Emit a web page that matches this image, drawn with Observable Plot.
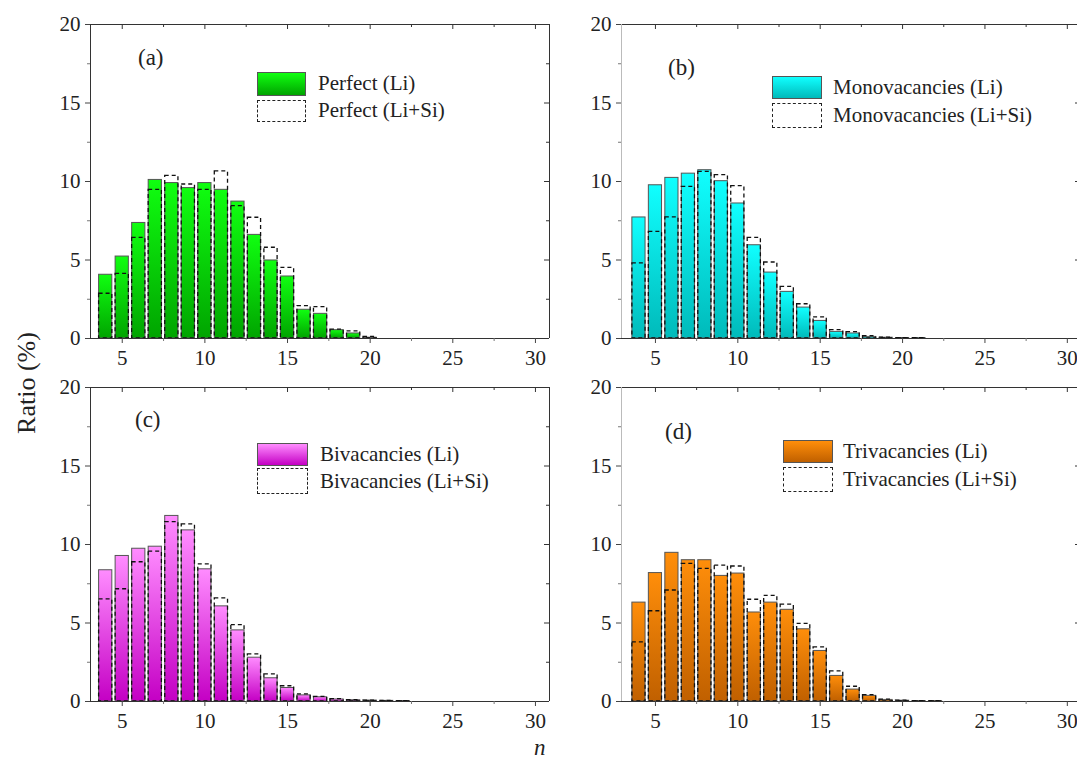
<!DOCTYPE html>
<html><head><meta charset="utf-8">
<script src="https://cdn.jsdelivr.net/npm/d3@7"></script>
<script src="https://cdn.jsdelivr.net/npm/@observablehq/plot@0.6"></script>
<style>
body{margin:0;background:#fff;}
#chart{position:relative;width:1077px;height:760px;overflow:hidden;background:#fff;font-family:"Liberation Serif","Times New Roman",serif;color:#222;}
.panel{position:absolute;}
.lab{position:absolute;white-space:nowrap;line-height:1;}
.sw{position:absolute;box-sizing:border-box;}
</style></head><body><div id="chart"></div>
<script>
// ---- data ----
const nValues = [4,5,6,7,8,9,10,11,12,13,14,15,16,17,18,19,20,21,22];
const perfectLi   = [4.06,5.22,7.36,10.1,9.9,9.58,9.9,9.47,8.72,6.6,4.97,3.95,1.83,1.57,0.53,0.32,0.05,0,0];
const perfectLiSi = [2.85,4.12,6.41,9.47,10.36,9.81,9.47,10.64,8.43,7.69,5.78,4.5,2.06,2.0,0.57,0.46,0.1,0,0];
const monoLi      = [7.71,9.76,10.23,10.5,10.72,10.02,8.6,5.94,4.2,2.97,1.97,1.12,0.42,0.32,0.1,0.05,0.03,0.02,0];
const monoLiSi    = [4.78,6.79,7.71,9.66,10.61,10.4,9.7,6.41,4.84,3.29,2.18,1.34,0.53,0.4,0.15,0.05,0.03,0.02,0];
const biLi        = [8.36,9.27,9.73,9.86,11.82,10.9,8.42,6.06,4.53,2.79,1.48,0.86,0.39,0.27,0.13,0.08,0.06,0.04,0.03];
const biLiSi      = [6.5,7.15,8.87,9.54,11.43,11.28,8.74,6.57,4.87,3.0,1.73,0.97,0.45,0.3,0.15,0.08,0.06,0.04,0.03];
const triLi       = [6.3,8.18,9.47,9.0,9.0,8.0,8.15,5.67,6.3,5.84,4.6,3.22,1.63,0.76,0.36,0.1,0.05,0.03,0.02];
const triLiSi     = [3.77,5.75,7.07,8.77,8.45,8.66,8.6,6.48,6.73,6.17,4.94,3.45,1.92,0.94,0.4,0.12,0.06,0.03,0.02];
const panelLabels = ["(a)","(b)","(c)","(d)"];
const seriesNames = ["Perfect","Monovacancies","Bivacancies","Trivacancies"];
const yMajor = [0,5,10,15,20];
const yMinor = [2.5,7.5,12.5,17.5];
const xMajor = [5,10,15,20,25,30];
const xMinor = [7.5,12.5,17.5,22.5,27.5];

// ---- layout / style ----
const layouts = [
  {li:perfectLi, lisi:perfectLiSi, top:"#10ff10", bot:"#00a400", left:0,   topPx:0,   ml:90, mr:11, mt:24, mb:34, xd:[3.08,30.85], leftStroke:"#333",
   lab:[138,46], leg:[257,72,49,24,100,22,318,84,111]},
  {li:monoLi, lisi:monoLiSi, top:"#10ffff", bot:"#00baba", left:530, topPx:0,   ml:91, mr:10, mt:24, mb:34, xd:[2.94,30.8], leftStroke:"#bbb",
   lab:[668,56], leg:[772,76,50,23,103,25,833,88,116]},
  {li:biLi, lisi:biLiSi, top:"#ff8cff", bot:"#c400c4", left:0,   topPx:362, ml:90, mr:11, mt:25, mb:33, xd:[3.08,30.85], leftStroke:"#333",
   lab:[135,408], leg:[257,443,51,23,468,26,320,455,482]},
  {li:triLi, lisi:triLiSi, top:"#ff8e0a", bot:"#c06000", left:530, topPx:362, ml:91, mr:10, mt:25, mb:33, xd:[2.94,30.8], leftStroke:"#bbb",
   lab:[665,420], leg:[783,440,50,23,467,25,843,452,480]}
];

const chart = document.getElementById("chart");

layouts.forEach((p, k) => {
  const data = nValues.map((n, i) => ({n, li: p.li[i], lisi: p.lisi[i]}));
  const gid = "grad" + k;
  const defs = () => {
    const d = d3.create("svg:defs");
    const g = d.append("linearGradient").attr("id", gid).attr("x1", 0).attr("y1", 0).attr("x2", 0).attr("y2", 1);
    g.append("stop").attr("offset", "0%").attr("stop-color", p.top);
    g.append("stop").attr("offset", "100%").attr("stop-color", p.bot);
    return d.node();
  };
  const [x0, x1] = p.xd;
  const plot = Plot.plot({
    width: 560, height: 372,
    marginLeft: p.ml, marginRight: p.mr, marginTop: p.mt, marginBottom: p.mb,
    x: {domain: p.xd}, y: {domain: [0, 20]},
    style: {fontFamily: '"Liberation Serif","Times New Roman",serif', fontSize: "21px", color: "#222", background: "transparent", overflow: "visible"},
    marks: [
      defs,
      Plot.rect(data.filter(d => d.li > 0), {x1: d => d.n - 0.4, x2: d => d.n + 0.4, y1: 0, y2: "li", fill: `url(#${gid})`, stroke: "#555", strokeWidth: 1}),
      Plot.rect(data.filter(d => d.lisi > 0), {x1: d => d.n - 0.4, x2: d => d.n + 0.4, y1: 0, y2: "lisi", fill: "none", stroke: "#111", strokeWidth: 1.3, strokeDasharray: "4,3"}),
      // frame
      Plot.ruleY([0, 20], {stroke: "#333"}),
      Plot.ruleX([x1], {stroke: "#333"}),
      Plot.ruleX([x0], {stroke: p.leftStroke}),
      // inward ticks top/right
      Plot.ruleX(xMajor, {x: d => d, y1: 20, y2: 20, insetBottom: -5, stroke: "#333"}),
      Plot.ruleX(xMinor, {x: d => d, y1: 20, y2: 20, insetBottom: -3, stroke: "#333"}),
      Plot.ruleY(yMajor.slice(1, 4), {y: d => d, x1: x1, x2: x1, insetLeft: -5, stroke: "#333"}),
      Plot.ruleY(yMinor, {y: d => d, x1: x1, x2: x1, insetLeft: -3, stroke: "#333"}),
      // axes
      Plot.axisY({ticks: yMajor, tickSize: 5, tickPadding: 5, label: null, stroke: "#444"}),
      Plot.axisY({ticks: yMinor, tickSize: 3, tickFormat: () => "", label: null, stroke: "#777"}),
      Plot.axisX({ticks: xMajor, tickSize: 5, tickPadding: 7, label: null, stroke: "#444"}),
      Plot.axisX({ticks: xMinor, tickSize: 3, tickFormat: () => "", label: null, stroke: "#777"})
    ]
  });
  plot.classList.add("panel");
  plot.style.left = p.left + "px";
  plot.style.top = p.topPx + "px";
  chart.appendChild(plot);

  // panel label
  const lab = document.createElement("div");
  lab.className = "lab";
  lab.style.cssText = `left:${p.lab[0]}px;top:${p.lab[1]}px;font-size:23px;`;
  lab.textContent = panelLabels[k];
  chart.appendChild(lab);

  // legend
  const [lx, ly, lw, lh, dy, dh, tx, ty1, ty2] = p.leg;
  const sw = document.createElement("div");
  sw.className = "sw";
  sw.style.cssText = `left:${lx}px;top:${ly}px;width:${lw}px;height:${lh}px;border:1px solid #555;background:linear-gradient(to bottom, ${p.top}, ${p.bot});`;
  chart.appendChild(sw);
  const sw2 = document.createElement("div");
  sw2.className = "sw";
  sw2.style.cssText = `left:${lx}px;top:${dy}px;width:${lw}px;height:${dh}px;border:1.5px dashed #222;`;
  chart.appendChild(sw2);
  [[ty1, seriesNames[k] + " (Li)"], [ty2, seriesNames[k] + " (Li+Si)"]].forEach(([ty, t]) => {
    const el = document.createElement("div");
    el.className = "lab";
    el.style.cssText = `left:${tx}px;top:${ty - 11}px;font-size:21px;`;
    el.textContent = t;
    chart.appendChild(el);
  });
});

// axis titles
const yt = document.createElement("div");
yt.className = "lab";
yt.style.cssText = "left:27px;top:383px;font-size:26px;transform:translate(-50%,-50%) rotate(-90deg);";
yt.textContent = "Ratio (%)";
chart.appendChild(yt);
const xt = document.createElement("div");
xt.className = "lab";
xt.style.cssText = "left:534px;top:736px;font-size:23px;line-height:23px;font-style:italic;";
xt.textContent = "n";
chart.appendChild(xt);
</script></body></html>
